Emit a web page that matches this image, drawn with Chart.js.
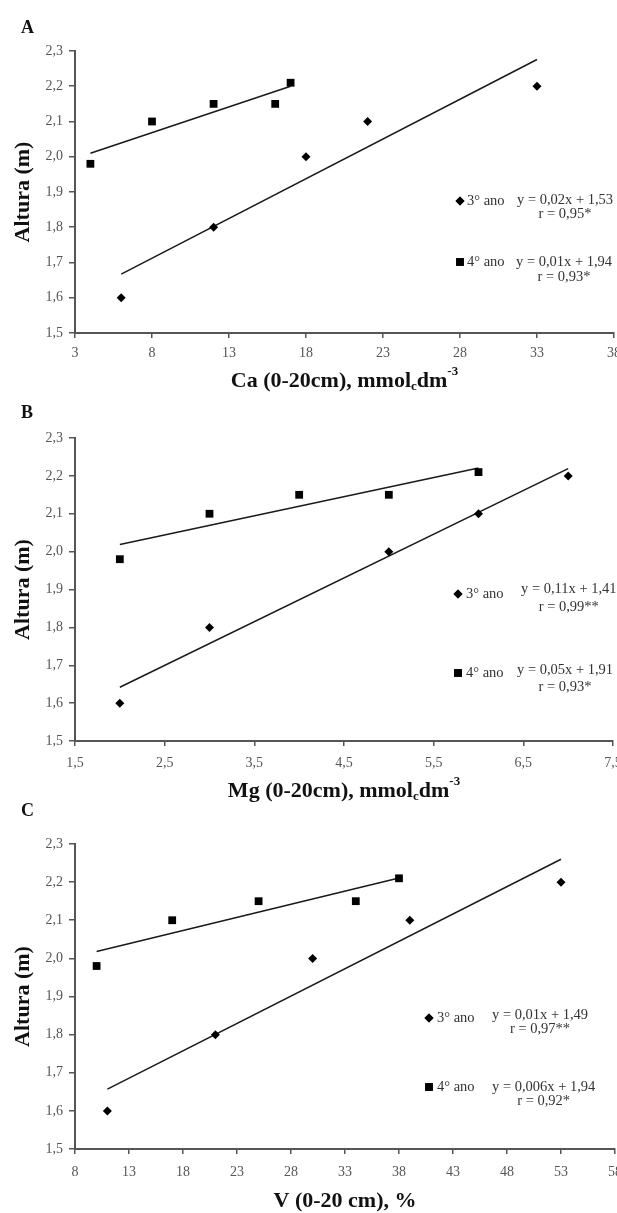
<!DOCTYPE html>
<html>
<head>
<meta charset="utf-8">
<script src="https://cdn.jsdelivr.net/npm/chart.js@4.4.1/dist/chart.umd.min.js"></script>
<style>
  html, body { margin: 0; padding: 0; background: #fff; width: 617px; height: 1213px; overflow: hidden; }
  canvas { position: absolute; left: 0; }
</style>
</head>
<body>
<canvas id="chartA"></canvas>
<canvas id="chartB"></canvas>
<canvas id="chartC"></canvas>
<script>
// Eixo Y comum (Altura, m)
const yTicks = [1.5, 1.6, 1.7, 1.8, 1.9, 2.0, 2.1, 2.2, 2.3];
const yTickLabels = ['1,5', '1,6', '1,7', '1,8', '1,9', '2,0', '2,1', '2,2', '2,3'];

// Painel A - Ca
const caTicks = [3, 8, 13, 18, 23, 28, 33, 38];
const caTickLabels = ['3', '8', '13', '18', '23', '28', '33', '38'];
const caX3 = [6, 12, 18, 22, 33];
const caY3 = [1.6, 1.8, 2.0, 2.1, 2.2];
const caX4 = [4, 8, 12, 16, 17];
const caY4 = [1.98, 2.1, 2.15, 2.15, 2.21];
const caFitX3 = [6, 33];
const caFitY3 = [1.667, 2.276];
const caFitX4 = [4, 17];
const caFitY4 = [2.01, 2.20];
const caEq = ['y = 0,02x + 1,53', 'y = 0,01x + 1,94'];
const caR = ['r = 0,95*', 'r = 0,93*'];

// Painel B - Mg
const mgTicks = [1.5, 2.5, 3.5, 4.5, 5.5, 6.5, 7.5];
const mgTickLabels = ['1,5', '2,5', '3,5', '4,5', '5,5', '6,5', '7,5'];
const mgX3 = [2, 3, 5, 6, 7];
const mgY3 = [1.6, 1.8, 2.0, 2.1, 2.2];
const mgX4 = [2, 3, 4, 5, 6];
const mgY4 = [1.98, 2.1, 2.15, 2.15, 2.21];
const mgFitX3 = [2, 7];
const mgFitY3 = [1.642, 2.219];
const mgFitX4 = [2, 6];
const mgFitY4 = [2.019, 2.221];
const mgEq = ['y = 0,11x + 1,41', 'y = 0,05x + 1,91'];
const mgR = ['r = 0,99**', 'r = 0,93*'];

// Painel C - V%
const vTicks = [8, 13, 18, 23, 28, 33, 38, 43, 48, 53, 58];
const vTickLabels = ['8', '13', '18', '23', '28', '33', '38', '43', '48', '53', '58'];
const vX3 = [11, 21, 30, 39, 53];
const vY3 = [1.6, 1.8, 2.0, 2.1, 2.2];
const vX4 = [10, 17, 25, 34, 38];
const vY4 = [1.98, 2.1, 2.15, 2.15, 2.21];
const vFitX3 = [11, 53];
const vFitY3 = [1.657, 2.26];
const vFitX4 = [10, 38];
const vFitY4 = [2.018, 2.211];
const vEq = ['y = 0,01x + 1,49', 'y = 0,006x + 1,94'];
const vR = ['r = 0,97**', 'r = 0,92*'];

const serieNames = ['3° ano', '4° ano'];

const SERIF = '"Liberation Serif", "Times New Roman", serif';
const CANVAS_W = 640;

const pts = (xs, ys) => xs.map((x, i) => ({ x: x, y: ys[i] }));

// Textos que o Chart.js não desenha sozinho: letra do painel, títulos e legenda
function textPlugin(p) {
  return {
    id: 'textos',
    afterDraw(chart) {
      const ctx = chart.ctx;
      const a = chart.chartArea;
      ctx.save();

      // Letra do painel
      ctx.fillStyle = '#111';
      ctx.font = 'bold 18px ' + SERIF;
      ctx.textAlign = 'left';
      ctx.textBaseline = 'middle';
      ctx.fillText(p.letter, 21, p.letterY);

      // Título do eixo Y
      ctx.save();
      ctx.translate(23, (a.top + a.bottom) / 2);
      ctx.rotate(-Math.PI / 2);
      ctx.textAlign = 'center';
      ctx.font = 'bold 22px ' + SERIF;
      ctx.fillText('Altura (m)', 0, 0);
      ctx.restore();

      // Título do eixo X com sub/sobrescrito
      const big = 'bold 22px ' + SERIF;
      const small = 'bold 13px ' + SERIF;
      let total = 0;
      p.xTitle.forEach(part => {
        ctx.font = part.sub || part.sup ? small : big;
        total += ctx.measureText(part.t).width;
      });
      let x = (a.left + a.right) / 2 - total / 2;
      ctx.textAlign = 'left';
      p.xTitle.forEach(part => {
        ctx.font = part.sub || part.sup ? small : big;
        const dy = part.sub ? 6 : (part.sup ? -9 : 0);
        ctx.fillText(part.t, x, p.xTitleY + dy);
        x += ctx.measureText(part.t).width;
      });

      // Legenda com equações
      p.legend.forEach((it, i) => {
        Chart.helpers.drawPoint(ctx, {
          pointStyle: i === 0 ? 'rectRot' : 'rect',
          radius: i === 0 ? 4.5 : 5.5,
          borderWidth: 0
        }, it.mx, it.my);
        ctx.fillStyle = '#000';
        ctx.fill();
        ctx.fillStyle = '#333';
        ctx.font = '14.5px ' + SERIF;
        ctx.textAlign = 'left';
        ctx.fillText(serieNames[i], it.nameX, it.my);
        ctx.fillText(p.eq[i], it.eqX, it.eqY);
        const w = ctx.measureText(p.eq[i]).width;
        ctx.textAlign = 'center';
        ctx.fillText(p.r[i], it.eqX + w / 2, it.rY);
      });

      ctx.restore();
    }
  };
}

function makePanel(id, p) {
  const canvas = document.getElementById(id);
  canvas.width = CANVAS_W;
  canvas.height = p.h;
  canvas.style.top = p.top + 'px';

  const tickFont = { family: SERIF, size: 14 };

  new Chart(canvas, {
    type: 'scatter',
    data: {
      datasets: [
        { label: serieNames[0], data: pts(p.x3, p.y3), pointStyle: 'rectRot', pointRadius: 4.5,
          backgroundColor: '#000', borderColor: '#000', borderWidth: 0 },
        { label: serieNames[1], data: pts(p.x4, p.y4), pointStyle: 'rect', pointRadius: 5.5,
          backgroundColor: '#000', borderColor: '#000', borderWidth: 0 },
        { data: pts(p.fx3, p.fy3), showLine: true, pointRadius: 0, borderColor: '#1a1a1a', borderWidth: 1.5 },
        { data: pts(p.fx4, p.fy4), showLine: true, pointRadius: 0, borderColor: '#1a1a1a', borderWidth: 1.5 }
      ]
    },
    options: {
      responsive: false,
      animation: false,
      devicePixelRatio: 1,
      layout: { padding: { left: 0, top: p.area[1], right: CANVAS_W - p.area[2], bottom: 0 } },
      plugins: { legend: { display: false }, tooltip: { enabled: false } },
      scales: {
        x: {
          type: 'linear',
          min: p.xTicks[0],
          max: p.xTicks[p.xTicks.length - 1],
          afterBuildTicks: s => { s.ticks = p.xTicks.map(v => ({ value: v })); },
          afterFit: s => { s.height = p.h - p.area[3]; },
          grid: { drawOnChartArea: false, tickLength: 5, color: '#555', lineWidth: 1.5 },
          border: { display: true, color: '#555', width: 2 },
          ticks: { padding: p.xPad, color: '#555', font: tickFont, maxRotation: 0,
                   autoSkip: false, callback: (v, i) => p.xLabels[i] }
        },
        y: {
          type: 'linear',
          min: yTicks[0],
          max: yTicks[yTicks.length - 1],
          afterBuildTicks: s => { s.ticks = yTicks.map(v => ({ value: v })); },
          afterFit: s => { s.width = p.area[0]; },
          grid: { drawOnChartArea: false, tickLength: 6, color: '#555', lineWidth: 1.5 },
          border: { display: true, color: '#555', width: 2 },
          ticks: { padding: 6, color: '#555', font: tickFont, autoSkip: false,
                   callback: (v, i) => yTickLabels[i] }
        }
      }
    },
    plugins: [textPlugin(p)]
  });
}

makePanel('chartA', {
  top: 0, h: 400, area: [75, 51, 614, 333], xPad: 7,
  xTicks: caTicks, xLabels: caTickLabels,
  x3: caX3, y3: caY3, x4: caX4, y4: caY4,
  fx3: caFitX3, fy3: caFitY3, fx4: caFitX4, fy4: caFitY4,
  eq: caEq, r: caR,
  letter: 'A', letterY: 28, xTitleY: 381,
  xTitle: [{ t: 'Ca (0-20cm), mmol' }, { t: 'c', sub: true }, { t: 'dm' }, { t: '-3', sup: true }],
  legend: [
    { mx: 460, my: 201, nameX: 467, eqX: 517, eqY: 200, rY: 214 },
    { mx: 460, my: 262, nameX: 467, eqX: 516, eqY: 262, rY: 277 }
  ]
});

makePanel('chartB', {
  top: 400, h: 412, area: [75, 38, 613, 341], xPad: 9,
  xTicks: mgTicks, xLabels: mgTickLabels,
  x3: mgX3, y3: mgY3, x4: mgX4, y4: mgY4,
  fx3: mgFitX3, fy3: mgFitY3, fx4: mgFitX4, fy4: mgFitY4,
  eq: mgEq, r: mgR,
  letter: 'B', letterY: 13, xTitleY: 391,
  xTitle: [{ t: 'Mg (0-20cm), mmol' }, { t: 'c', sub: true }, { t: 'dm' }, { t: '-3', sup: true }],
  legend: [
    { mx: 458, my: 194, nameX: 466, eqX: 521, eqY: 189, rY: 207 },
    { mx: 458, my: 273, nameX: 466, eqX: 517, eqY: 270, rY: 287 }
  ]
});

makePanel('chartC', {
  top: 800, h: 413, area: [75, 44, 615, 349], xPad: 10,
  xTicks: vTicks, xLabels: vTickLabels,
  x3: vX3, y3: vY3, x4: vX4, y4: vY4,
  fx3: vFitX3, fy3: vFitY3, fx4: vFitX4, fy4: vFitY4,
  eq: vEq, r: vR,
  letter: 'C', letterY: 11, xTitleY: 401,
  xTitle: [{ t: 'V (0-20 cm), %' }],
  legend: [
    { mx: 429, my: 218, nameX: 437, eqX: 492, eqY: 215, rY: 229 },
    { mx: 429, my: 287, nameX: 437, eqX: 492, eqY: 287, rY: 301 }
  ]
});
</script>
</body>
</html>
